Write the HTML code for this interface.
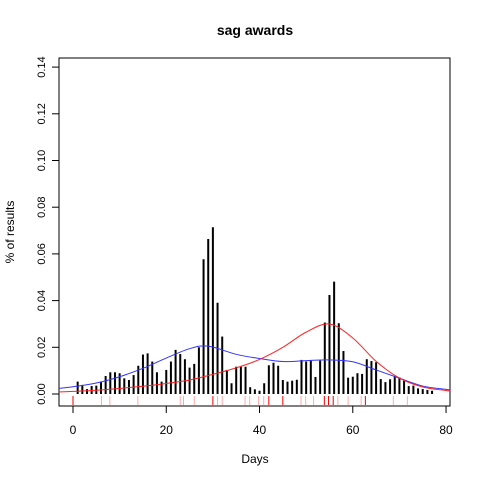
<!DOCTYPE html>
<html><head><meta charset="utf-8"><style>body{margin:0;background:#fff}svg{display:block;font-family:"Liberation Sans",sans-serif}</style></head>
<body>
<svg id="c" width="480" height="480">
<text x="255" y="35" text-anchor="middle" font-size="14" font-weight="bold">sag awards</text>
<text x="255" y="463" text-anchor="middle" font-size="12">Days</text>
<text transform="translate(14,232) rotate(-90)" text-anchor="middle" font-size="12">% of results</text>
<rect x="59" y="58" width="391" height="348" fill="none" stroke="#000"/>
</svg>
<script>
const days=[];for(let i=1;i<=77;i++)days.push(i);
const vals=[.0053,.0039,.0021,.0034,.0036,.0053,.0077,.0093,.0093,.0089,.0067,.0060,.0081,.0121,.0169,.0174,.0139,.0093,.0053,.0103,.0139,.0189,.0171,.0149,.0113,.0129,.0200,.0577,.0664,.0714,.0391,.0246,.0103,.0046,.0117,.0117,.0117,.0029,.0020,.0014,.0046,.0123,.0134,.0121,.0060,.0053,.0057,.0061,.0146,.0139,.0143,.0073,.0143,.0306,.0424,.0481,.0303,.0184,.0070,.0074,.0089,.0086,.0149,.0141,.0136,.0064,.0051,.0063,.0077,.0071,.0057,.0034,.0036,.0024,.0021,.0017,.0014];
const curveDays=[-3,0,5,10,15,20,25,29,35,40,45,50,55,60,65,70,75,80,81];
const blueVals=[.0024,.0031,.0047,.0074,.0110,.0154,.0194,.0205,.0170,.0152,.0139,.0143,.0146,.0138,.0103,.0068,.0034,.0020,.0017];
const redVals=[.0009,.0011,.0016,.0024,.0033,.0045,.0060,.0079,.0112,.0148,.0200,.0265,.0300,.0240,.0140,.0068,.0030,.0015,.0013];
const rugRed=[0,30,42,45,53.9,54.8,55.8,62.7];
const rugPink=[6.1,7.9,13.9,23,23.7,26,31,32,36.9,37.9,39.8,40.9,48.9,49.9,51.6,56.8,59,61.8,68.7,71.7];
const xTicks=[0,20,40,60,80];
const yTicks=[0,.02,.04,.06,.08,.10,.12,.14];
const yLabels=["0.00","0.02","0.04","0.06","0.08","0.10","0.12","0.14"];
const X=d=>73+d*4.663, Y=v=>394-v*2335;
const s=document.getElementById('c'),NS='http://www.w3.org/2000/svg';
function mk(t,a){const e=document.createElementNS(NS,t);for(const k in a)e.setAttribute(k,a[k]);s.appendChild(e);return e;}
days.forEach((d,i)=>{const e=mk('line',{x1:X(d),x2:X(d),y1:Y(0),y2:Y(vals[i]),stroke:'#000','stroke-width':2});

});
function curve(arr,col,name){
const P=curveDays.map((d,i)=>[X(d),Y(arr[i])]);
let dstr='M'+P[0][0]+','+P[0][1];
for(let i=0;i<P.length-1;i++){const p0=P[Math.max(0,i-1)],p1=P[i],p2=P[i+1],p3=P[Math.min(P.length-1,i+2)];
const c1=[p1[0]+(p2[0]-p0[0])/6,p1[1]+(p2[1]-p0[1])/6],c2=[p2[0]-(p3[0]-p1[0])/6,p2[1]-(p3[1]-p1[1])/6];
dstr+=` C${c1[0]},${c1[1]} ${c2[0]},${c2[1]} ${p2[0]},${p2[1]}`;}
const p=mk('path',{d:dstr,fill:'none',stroke:col,'stroke-width':1});

}
curve(blueVals,'#3333ff','blue-density-curve');curve(redVals,'#ff2222','red-density-curve');
rugPink.forEach(d=>{const e=mk('line',{x1:X(d),x2:X(d),y1:396,y2:405,stroke:'#ffaaaa'});

});
rugRed.forEach(d=>{const e=mk('line',{x1:X(d),x2:X(d),y1:396,y2:405,stroke:'#ee0000'});

});
xTicks.forEach(t=>{const l=mk('line',{x1:X(t),x2:X(t),y1:406,y2:413,stroke:'#000'});


const tx=mk('text',{x:X(t),y:434,'text-anchor':'middle','font-size':12});tx.textContent=t;

});
yTicks.forEach((t,i)=>{const l=mk('line',{x1:52,x2:59,y1:Y(t),y2:Y(t),stroke:'#000'});


const tx=mk('text',{transform:`translate(45,${Y(t)}) rotate(-90)`,'text-anchor':'middle','font-size':11});tx.textContent=yLabels[i];

});
</script>
</body></html>
